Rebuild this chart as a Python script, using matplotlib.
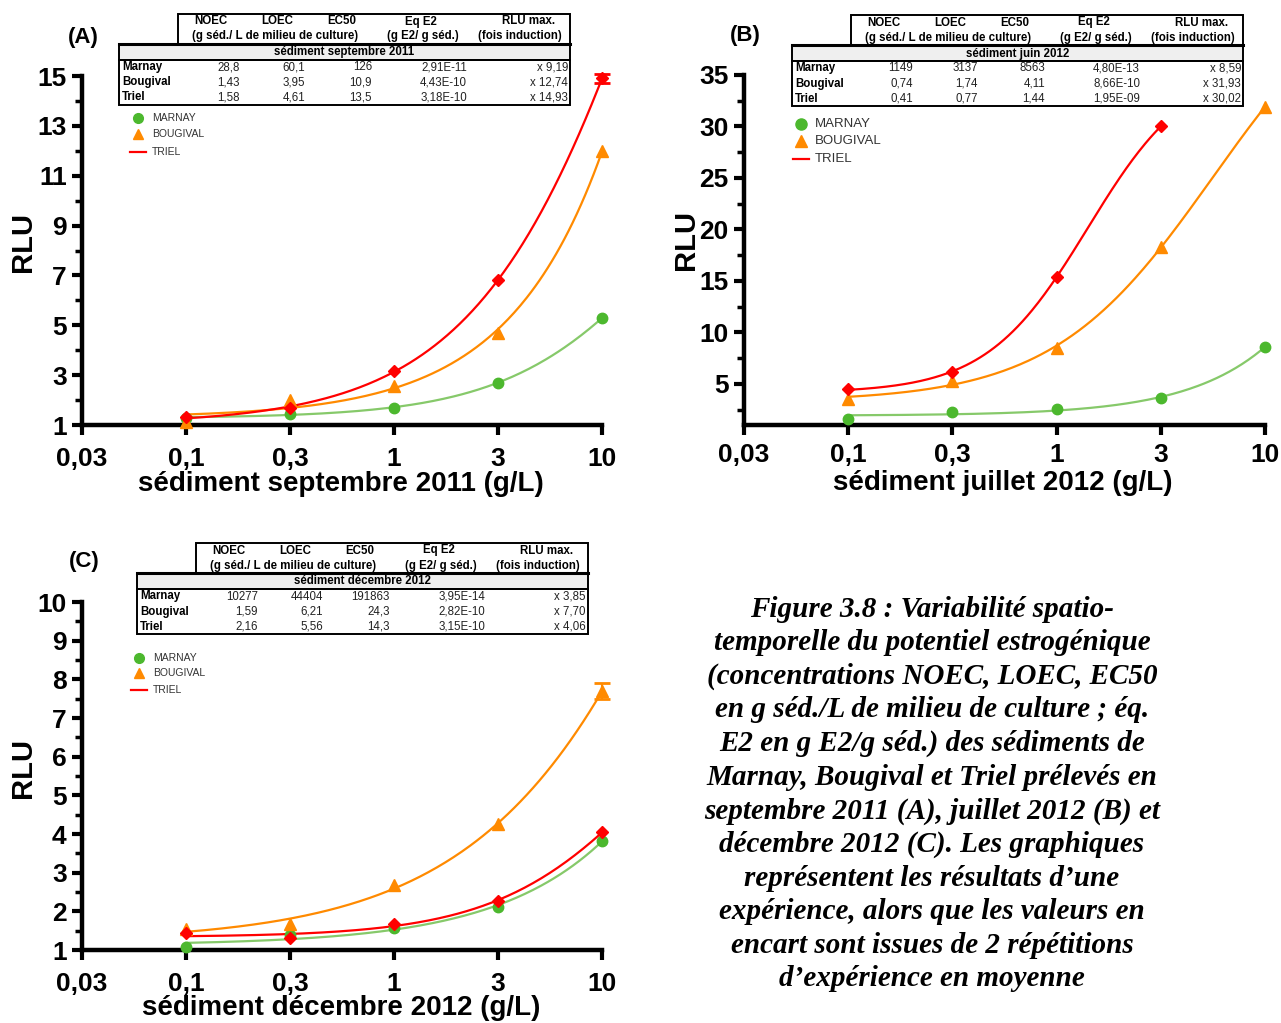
import numpy as np
import matplotlib
matplotlib.use("Agg")
import matplotlib.pyplot as plt
from matplotlib.patches import Rectangle
from matplotlib.lines import Line2D

W, H = 1281, 1023
plt.rcParams['font.family'] = ['Liberation Sans', 'DejaVu Sans']

# ---------------- data ----------------
doses = [0.1, 0.3, 1, 3, 10]
xtick_vals = [0.03, 0.1, 0.3, 1, 3, 10]
xtick_labels = ["0,03", "0,1", "0,3", "1", "3", "10"]

# Panel A : septembre 2011
a_marnay = [1.30, 1.43, 1.70, 2.70, 5.29]
a_bougival = [1.13, 2.00, 2.58, 4.68, 12.0]
a_triel = [1.31, 1.67, 3.18, 6.80, 14.9]
a_triel_err = [0, 0, 0, 0, 0.2]

# Panel B : juillet 2012
b_marnay = [1.6, 2.3, 2.6, 3.6, 8.6]
b_bougival = [3.5, 5.3, 8.5, 18.3, 31.9]
b_triel = [4.46, 6.15, 15.4, 30.0]

# Panel C : décembre 2012
c_marnay = [1.07, 1.39, 1.58, 2.10, 3.82]
c_bougival = [1.54, 1.67, 2.68, 4.26, 7.69]
c_bougival_err = [0, 0, 0, 0, 0.21]
c_triel = [1.43, 1.30, 1.67, 2.28, 4.04]

# tables
tab_cols = ["NOEC", "LOEC", "EC50", "Eq E2", "RLU max."]
tab_rows = ["Marnay", "Bougival", "Triel"]
tab_a_title = "sédiment septembre 2011"
tab_a = [["28,8", "60,1", "126", "2,91E-11", "x 9,19"],
         ["1,43", "3,95", "10,9", "4,43E-10", "x 12,74"],
         ["1,58", "4,61", "13,5", "3,18E-10", "x 14,93"]]
tab_b_title = "sédiment juin 2012"
tab_b = [["1149", "3137", "8563", "4,80E-13", "x 8,59"],
         ["0,74", "1,74", "4,11", "8,66E-10", "x 31,93"],
         ["0,41", "0,77", "1,44", "1,95E-09", "x 30,02"]]
tab_c_title = "sédiment décembre 2012"
tab_c = [["10277", "44404", "191863", "3,95E-14", "x 3,85"],
         ["1,59", "6,21", "24,3", "2,82E-10", "x 7,70"],
         ["2,16", "5,56", "14,3", "3,15E-10", "x 4,06"]]

legend_names = ["MARNAY", "BOUGIVAL", "TRIEL"]

caption = ("Figure 3.8 : Variabilité spatio-\n"
           "temporelle du potentiel estrogénique\n"
           "(concentrations NOEC, LOEC, EC50\n"
           "en g séd./L de milieu de culture ; éq.\n"
           "E2 en g E2/g séd.) des sédiments de\n"
           "Marnay, Bougival et Triel prélevés en\n"
           "septembre 2011 (A), juillet 2012 (B) et\n"
           "décembre 2012 (C). Les graphiques\n"
           "représentent les résultats d\u2019une\n"
           "expérience, alors que les valeurs en\n"
           "encart sont issues de 2 répétitions\n"
           "d\u2019expérience en moyenne")

GREEN = "#4cb82e"
GREEN_L = "#86c96a"
ORANGE = "#ff8a00"
RED = "#ff0000"

# ---------------- helpers ----------------
fig = plt.figure(figsize=(W / 100, H / 100), dpi=100)

lt = np.log10(xtick_vals)
idx = np.arange(len(xtick_vals), dtype=float)


def fwd(x):
    return np.interp(np.log10(np.clip(x, 1e-6, None)), lt, idx)


def inv(t):
    return 10 ** np.interp(t, idx, lt)


def fx(px):
    return px / W


def fy(py):
    return 1 - py / H


def make_axes(left, right, top, bottom):
    return fig.add_axes([fx(left), fy(bottom), (right - left) / W, (bottom - top) / H])


def fit_curve(x, y):
    """Least-squares 4-parameter logistic fit in log-dose space (grid on EC50/slope)."""
    t = fwd(np.array(x, float))
    yy = np.array(y, float)
    t50 = np.linspace(0.5, 12, 231)[:, None, None]
    hh = np.linspace(0.2, 6, 117)[None, :, None]
    s = 1.0 / (1.0 + np.exp(-hh * (t[None, None, :] - t50)))
    sm = s.mean(-1, keepdims=True)
    ym = yy.mean()
    vs = ((s - sm) ** 2).sum(-1, keepdims=True)
    b = ((s - sm) * (yy - ym)).sum(-1, keepdims=True) / np.maximum(vs, 1e-300)
    b = np.maximum(b, 0)
    a = ym - b * sm
    sse = ((a + b * s - yy) ** 2).sum(-1)
    i, j = np.unravel_index(np.argmin(sse), sse.shape)
    T50, Hs = t50[i, 0, 0], hh[0, j, 0]
    A, B = a[i, j, 0], b[i, j, 0]
    tt = np.linspace(t.min(), t.max(), 200)
    v = A + B / (1.0 + np.exp(-Hs * (tt - T50)))
    return inv(tt), v


def draw_series(ax, y, color, lcolor, marker, ms, err=None):
    x = doses[:len(y)]
    cx, cy = fit_curve(x, y)
    ax.plot(cx, cy, color=lcolor, lw=1.6, clip_on=False, zorder=3)
    if err is not None:
        sel = [k for k in range(len(y)) if err[k] > 0]
        ax.errorbar([x[k] for k in sel], [y[k] for k in sel], yerr=[err[k] for k in sel],
                    fmt='none', ecolor=color, elinewidth=1.5,
                    capsize=6, capthick=2, clip_on=False, zorder=4)
    ax.plot(x, y, ls='none', marker=marker, ms=ms, color=color, mec=color,
            clip_on=False, zorder=5)


def style_axes(ax, ylim, major, minor, ylabels_from, xpad=9):
    ax.set_xscale('function', functions=(fwd, inv))
    ax.set_xlim(xtick_vals[0], xtick_vals[-1])
    ax.set_ylim(*ylim)
    ax.set_xticks(xtick_vals)
    ax.set_xticklabels(xtick_labels)
    ax.xaxis.set_minor_locator(matplotlib.ticker.NullLocator())
    yt = np.arange(ylabels_from, ylim[1] + 1e-9, major)
    ax.set_yticks(yt)
    ax.set_yticklabels([f"{v:g}" for v in yt])
    ax.set_yticks(np.arange(ylim[0], ylim[1] + 1e-9, minor), minor=True)
    for s in ['top', 'right']:
        ax.spines[s].set_visible(False)
    for s in ['left', 'bottom']:
        ax.spines[s].set_linewidth(3.2)
    ax.tick_params(axis='both', which='major', length=7, width=3, labelsize=19)
    ax.tick_params(axis='x', which='major', pad=xpad)
    ax.tick_params(axis='y', which='major', pad=4)
    ax.tick_params(axis='y', which='minor', length=5, width=2.5)
    for lab in ax.get_xticklabels() + ax.get_yticklabels():
        lab.set_fontweight('bold')
    ax.set_facecolor('none')


TFS = 8.3


def draw_table(x0, y0, title, rows):
    hx0 = x0 + 59
    xr = x0 + 451
    lw = 1.4
    fig.patches.append(Rectangle((fx(hx0), fy(y0 + 30)), (xr - hx0) / W, 30 / H,
                                 transform=fig.transFigure, fill=False, ec='black', lw=lw))
    fig.patches.append(Rectangle((fx(x0), fy(y0 + 46)), (xr - x0) / W, 16 / H,
                                 transform=fig.transFigure, fc='#efefef', ec='black', lw=lw))
    fig.patches.append(Rectangle((fx(x0), fy(y0 + 91)), (xr - x0) / W, 45 / H,
                                 transform=fig.transFigure, fill=False, ec='black', lw=lw))
    fig.add_artist(Line2D([fx(x0), fx(xr)], [fy(y0 + 30), fy(y0 + 30)], lw=2.2, color='black',
                          transform=fig.transFigure))
    hc = [x0 + 92, x0 + 158, x0 + 223, x0 + 302, x0 + 410]
    for c, t in zip(hc, tab_cols):
        fig.text(fx(c), fy(y0 + 7.5), t, ha='center', va='center', fontsize=TFS, fontweight='bold')
    fig.text(fx(x0 + 156), fy(y0 + 22.5), "(g séd./ L de milieu de culture)", ha='center',
             va='center', fontsize=TFS, fontweight='bold')
    fig.text(fx(x0 + 304), fy(y0 + 22.5), "(g E2/ g séd.)", ha='center', va='center',
             fontsize=TFS, fontweight='bold')
    fig.text(fx(x0 + 401), fy(y0 + 22.5), "(fois induction)", ha='center', va='center',
             fontsize=TFS, fontweight='bold')
    fig.text(fx((x0 + xr) / 2), fy(y0 + 38.5), title, ha='center', va='center',
             fontsize=TFS, fontweight='bold')
    rx = [x0 + 121, x0 + 186, x0 + 253, x0 + 348, x0 + 449]
    for i, (name, vals) in enumerate(zip(tab_rows, rows)):
        yy = fy(y0 + 53.5 + 15 * i)
        fig.text(fx(x0 + 3), yy, name, ha='left', va='center', fontsize=TFS, fontweight='bold')
        for r, v in zip(rx, vals):
            fig.text(fx(r), yy, v, ha='right', va='center', fontsize=TFS, color='#222222')


def draw_legend(mx, ys, fs, ms):
    tx = mx + 14
    fig.add_artist(Line2D([fx(mx)], [fy(ys[0])], marker='o', ms=ms, color=GREEN, ls='none',
                          transform=fig.transFigure))
    fig.add_artist(Line2D([fx(mx)], [fy(ys[1])], marker='^', ms=ms, color=ORANGE, ls='none',
                          transform=fig.transFigure))
    fig.add_artist(Line2D([fx(mx - 8), fx(mx + 8)], [fy(ys[2]), fy(ys[2])], color=RED, lw=1.6,
                          transform=fig.transFigure))
    for yv, n in zip(ys, legend_names):
        fig.text(fx(tx), fy(yv), n, ha='left', va='center', fontsize=fs, color='#333333')


def set_ylabel(ax, px_x, px_y, left, right, top, bottom):
    ax.set_ylabel("RLU", fontsize=21, fontweight='bold')
    ax.yaxis.set_label_coords((px_x - left) / (right - left), (bottom - px_y) / (bottom - top))
    ax.yaxis.label.set_va('center')


def set_xlabel(ax, text, px_x, px_y, left, right, top, bottom):
    ax.set_xlabel(text, fontsize=20, fontweight='bold')
    ax.xaxis.set_label_coords((px_x - left) / (right - left), (bottom - px_y) / (bottom - top))
    ax.xaxis.label.set_va('center')


MS_C, MS_T, MS_D = 7.5, 8, 6

# ---------------- Panel A ----------------
geomA = (82, 602, 76, 425)
axA = make_axes(*geomA)
style_axes(axA, (1, 15), 2, 1, 1)
draw_series(axA, a_marnay, GREEN, GREEN_L, 'o', MS_C)
draw_series(axA, a_bougival, ORANGE, ORANGE, '^', MS_T)
draw_series(axA, a_triel, RED, RED, 'D', MS_D, err=a_triel_err)
set_ylabel(axA, 23, 242, *geomA)
set_xlabel(axA, "sédiment septembre 2011 (g/L)", 341, 484, *geomA)
fig.text(fx(83), fy(37), "(A)", ha='center', va='center', fontsize=16, fontweight='bold')
draw_table(119, 14, tab_a_title, tab_a)
draw_legend(138, [118, 134, 152], 7.5, 7)

# ---------------- Panel B ----------------
geomB = (744, 1265, 75, 425)
axB = make_axes(*geomB)
style_axes(axB, (1, 35), 5, 2.5, 5, xpad=6)
axB.set_yticks(np.arange(2.5, 35.01, 2.5), minor=True)
draw_series(axB, b_marnay, GREEN, GREEN_L, 'o', MS_C)
draw_series(axB, b_bougival, ORANGE, ORANGE, '^', MS_T)
draw_series(axB, b_triel, RED, RED, 'D', MS_D)
set_ylabel(axB, 686, 240, *geomB)
set_xlabel(axB, "sédiment juillet 2012 (g/L)", 1003, 483, *geomB)
fig.text(fx(745), fy(35), "(B)", ha='center', va='center', fontsize=16, fontweight='bold')
draw_table(792, 15, tab_b_title, tab_b)
draw_legend(801, [124, 141, 159], 9.5, 8)

# ---------------- Panel C ----------------
geomC = (82, 602, 602, 950)
axC = make_axes(*geomC)
style_axes(axC, (1, 10), 1, 0.5, 1)
draw_series(axC, c_marnay, GREEN, GREEN_L, 'o', MS_C)
draw_series(axC, c_bougival, ORANGE, ORANGE, '^', MS_T, err=c_bougival_err)
draw_series(axC, c_triel, RED, RED, 'D', MS_D)
set_ylabel(axC, 23, 768, *geomC)
set_xlabel(axC, "sédiment décembre 2012 (g/L)", 341, 1008, *geomC)
fig.text(fx(84), fy(562), "(C)", ha='center', va='center', fontsize=16, fontweight='bold')
draw_table(137, 543, tab_c_title, tab_c)
draw_legend(139, [658, 673, 690], 7.5, 7)

# ---------------- caption ----------------
fig.text(fx(932), fy(794), caption, ha='center', va='center', fontsize=21,
         family=['Liberation Serif', 'DejaVu Serif'], fontweight='bold', style='italic',
         linespacing=1.31)

fig.savefig("out.png", dpi=100)
